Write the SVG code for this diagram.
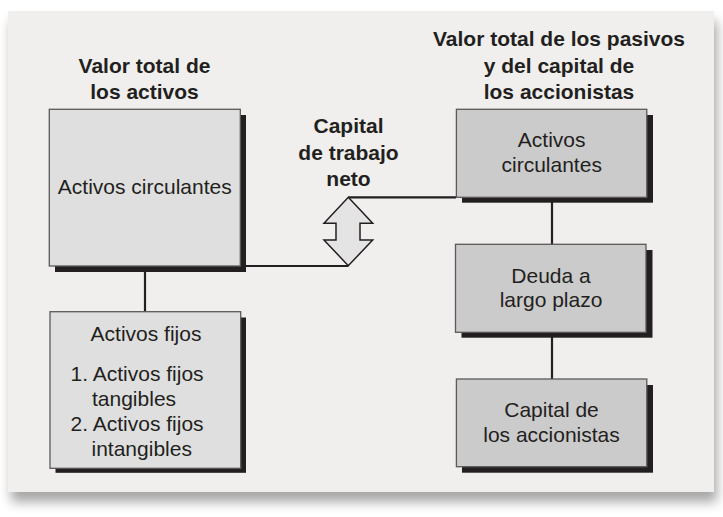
<svg xmlns="http://www.w3.org/2000/svg" width="723" height="517" viewBox="0 0 723 517">
<defs>
<filter id="panelShadow" x="-10%" y="-10%" width="125%" height="130%">
<feGaussianBlur in="SourceAlpha" stdDeviation="6"/>
<feOffset dx="3" dy="10" result="b"/>
<feComponentTransfer><feFuncA type="linear" slope="0.35"/></feComponentTransfer>
<feMerge><feMergeNode/><feMergeNode in="SourceGraphic"/></feMerge>
</filter>
<style>
.t{font-family:"Liberation Sans",Arial,Helvetica,sans-serif;font-size:21px;fill:#231f20;text-anchor:middle}
.tl{text-anchor:start}
.b{font-weight:bold}
.sh{fill:#231f20}
.lb{fill:#dfdfdf;stroke:#5a5a5a;stroke-width:1.3}
.rb{fill:#cbcbcb;stroke:#5a5a5a;stroke-width:1.3}
.ln{stroke:#231f20;stroke-width:2.2;fill:none}
</style>
</defs>
<rect width="723" height="517" fill="#ffffff"/>
<rect x="8" y="11" width="706" height="481" fill="#f0efed" filter="url(#panelShadow)"/>

<g id="titles">
<text class="t b" x="144.5" y="72.5">Valor total de</text>
<text class="t b" x="144.5" y="99">los activos</text>
<text class="t b" x="559" y="46">Valor total de los pasivos</text>
<text class="t b" x="559" y="72.5">y del capital de</text>
<text class="t b" x="559" y="99">los accionistas</text>
</g>

<g id="connectors">
<line class="ln" x1="145" y1="266" x2="145" y2="312"/>
<line class="ln" x1="240" y1="266" x2="348.3" y2="266"/>
<line class="ln" x1="348.3" y1="197.3" x2="456" y2="197.3"/>
<line class="ln" x1="552" y1="197" x2="552" y2="245"/>
<line class="ln" x1="552" y1="332" x2="552" y2="379"/>
</g>

<g id="arrow">
<polygon points="348.3,197.3 372.7,223.3 360,223.3 360,240 372.7,240 348.3,265.7 324,240 336,240 336,223.3 324,223.3" fill="#e4e4e4" stroke="#231f20" stroke-width="1.5" stroke-linejoin="miter"/>
</g>

<g id="label-capital-trabajo">
<text class="t b" x="348.5" y="133">Capital</text>
<text class="t b" x="348.5" y="159.5">de trabajo</text>
<text class="t b" x="348.5" y="186">neto</text>
</g>

<g id="node-activos-circulantes-left">
<rect class="sh" x="55" y="115" width="191" height="157"/>
<rect class="lb" x="49.3" y="109.3" width="191" height="156.7"/>
<text class="t" x="144.8" y="194">Activos circulantes</text>
</g>

<g id="node-activos-fijos">
<rect class="sh" x="55.5" y="317.5" width="190.5" height="155.3"/>
<rect class="lb" x="50" y="311.7" width="190.7" height="156.6"/>
<text class="t" x="146" y="341">Activos fijos</text>
<text class="t tl" x="70.5" y="381">1. Activos fijos</text>
<text class="t tl" x="92" y="405.5">tangibles</text>
<text class="t tl" x="70.5" y="431">2. Activos fijos</text>
<text class="t tl" x="91.5" y="456">intangibles</text>
</g>

<g id="node-activos-circulantes-right">
<rect class="sh" x="462" y="115" width="191" height="87.7"/>
<rect class="rb" x="456.4" y="109.3" width="190.4" height="88"/>
<text class="t" x="551.7" y="147.3">Activos</text>
<text class="t" x="551.7" y="171.7">circulantes</text>
</g>

<g id="node-deuda">
<rect class="sh" x="461.5" y="250" width="191" height="87.7"/>
<rect class="rb" x="455.5" y="244.3" width="190.5" height="88"/>
<text class="t" x="551" y="282.7">Deuda a</text>
<text class="t" x="551" y="306.5">largo plazo</text>
</g>

<g id="node-capital">
<rect class="sh" x="462" y="385" width="191" height="87.7"/>
<rect class="rb" x="456.4" y="379" width="190.4" height="87.7"/>
<text class="t" x="551.5" y="417.3">Capital de</text>
<text class="t" x="551.5" y="441.7">los accionistas</text>
</g>
</svg>
